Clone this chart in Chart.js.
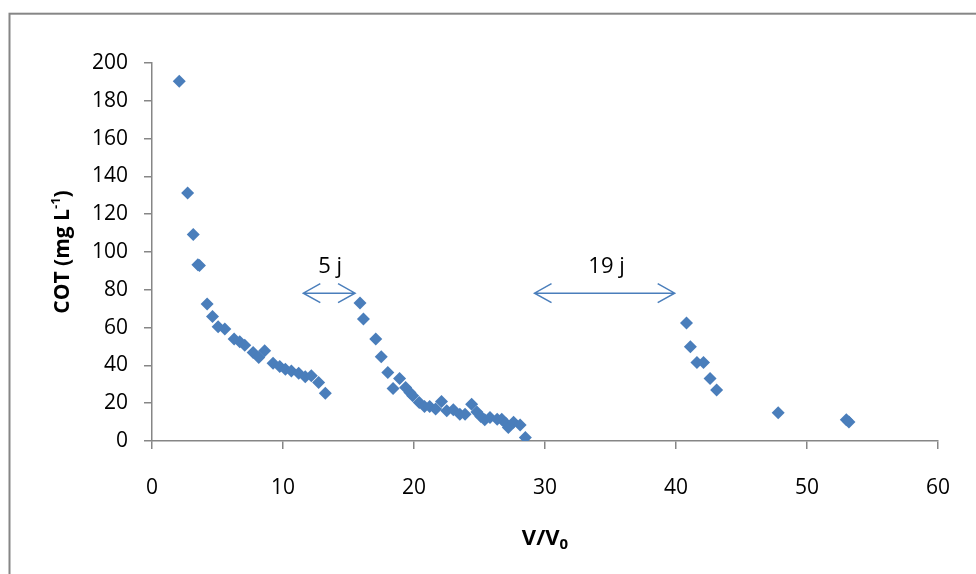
<!DOCTYPE html>
<html>
<head>
<meta charset="utf-8">
<script src="https://cdn.jsdelivr.net/npm/chart.js@4.4.1/dist/chart.umd.min.js"></script>
<style>
  html, body { margin: 0; padding: 0; background: #fff; }
  #wrap { width: 976px; height: 574px; position: relative; }
</style>
</head>
<body>
<div id="wrap"><canvas id="cotChart"></canvas></div>
<script>
// V/V0 values
const vRatio = [2.08, 2.72, 3.15, 3.5, 3.62, 4.21, 4.62, 5.05, 5.56, 6.27, 6.70, 7.08, 7.72, 8.15, 8.6,
  9.24, 9.75, 10.18, 10.64, 11.2, 11.7, 12.16, 12.72, 13.23,
  15.88, 16.14, 17.08, 17.5, 18.0, 18.4, 18.9, 19.36, 19.69, 19.9, 20.4, 20.8, 21.2, 21.65, 22.1,
  22.5, 23.0, 23.5, 23.9, 24.4, 24.8, 25.1, 25.4, 25.8, 26.35, 26.7, 27.0, 27.2, 27.6, 28.1, 28.5,
  40.8, 41.1, 41.6, 42.1, 42.6, 43.1, 47.8, 53.0, 53.2];
// COT (mg L-1)
const cotValues = [190.4, 131.2, 109.3, 93.2, 92.8, 72.5, 65.9, 60.5, 59.2, 54, 52.5, 50.7, 46.8, 44.2, 47.7,
  41.2, 39.4, 38, 37.1, 35.9, 34, 34.5, 30.9, 25.3,
  73, 64.6, 54, 44.6, 36.3, 27.8, 33.1, 28.3, 25.6, 23.9, 20.4, 18.3, 18.3, 16.9, 20.9,
  16, 16.5, 14.2, 14.2, 19.5, 15.4, 12.9, 11.2, 12.4, 11.5, 11.5, 9.4, 7.1, 9.9, 8.5, 1.8,
  62.4, 49.9, 41.6, 41.6, 33.1, 27.0, 15.0, 11.2, 10.0];

// pause annotations: arrow span (x from, x to) at height y, with label
const pauseLabels = ['5 j', '19 j'];
const pauseFrom = [11.55, 29.2];
const pauseTo = [15.5, 39.9];
const pauseY = [78.2, 78.2];
const labelX = [13.6, 34.7];
const labelY = [92, 92];

const blue = '#4A7EBB';
const axisGrey = '#868686';
const fontFam = "'Open Sans', 'Liberation Sans', sans-serif";

const points = vRatio.map((v, i) => ({ x: v, y: cotValues[i] }));

// outer frame, axis titles and the pause arrows
const extras = {
  id: 'extras',
  afterDraw(chart) {
    const ctx = chart.ctx;
    const xs = chart.scales.x, ys = chart.scales.y;
    const area = chart.chartArea;
    ctx.save();

    // frame around the whole chart (runs off the right and bottom)
    ctx.strokeStyle = axisGrey;
    ctx.lineWidth = 2;
    ctx.strokeRect(9.5, 13.7, chart.width + 20, chart.height + 20);

    // arrows
    ctx.strokeStyle = blue;
    ctx.lineWidth = 1.5;
    pauseFrom.forEach((x0, i) => {
      const a = xs.getPixelForValue(x0);
      const b = xs.getPixelForValue(pauseTo[i]);
      const y = ys.getPixelForValue(pauseY[i]);
      ctx.beginPath();
      ctx.moveTo(a, y); ctx.lineTo(b, y);
      ctx.moveTo(a + 17, y - 9.5); ctx.lineTo(a, y); ctx.lineTo(a + 17, y + 9.5);
      ctx.moveTo(b - 17, y - 9.5); ctx.lineTo(b, y); ctx.lineTo(b - 17, y + 9.5);
      ctx.stroke();
    });

    // arrow labels
    ctx.fillStyle = '#000';
    ctx.font = '22px ' + fontFam;
    ctx.textAlign = 'center';
    ctx.textBaseline = 'middle';
    pauseLabels.forEach((t, i) => {
      ctx.fillText(t, xs.getPixelForValue(labelX[i]), ys.getPixelForValue(labelY[i]));
    });

    // x title: V/V0
    ctx.font = 'bold 22px ' + fontFam;
    ctx.textAlign = 'left';
    ctx.textBaseline = 'alphabetic';
    const main = 'V/V';
    const wMain = ctx.measureText(main).width;
    ctx.font = 'bold 15px ' + fontFam;
    const wSub = ctx.measureText('0').width;
    let tx = (area.left + area.right) / 2 - (wMain + wSub) / 2;
    const ty = 545;
    ctx.font = 'bold 22px ' + fontFam;
    ctx.fillText(main, tx, ty);
    ctx.font = 'bold 15px ' + fontFam;
    ctx.fillText('0', tx + wMain, ty + 4);

    // y title: COT (mg L-1)
    ctx.translate(69, (area.top + area.bottom) / 2);
    ctx.rotate(-Math.PI / 2);
    const p1 = 'COT (mg L', p2 = '-1', p3 = ')';
    ctx.font = 'bold 21px ' + fontFam;
    const w1 = ctx.measureText(p1).width, w3 = ctx.measureText(p3).width;
    ctx.font = 'bold 13px ' + fontFam;
    const w2 = ctx.measureText(p2).width;
    let sx = -(w1 + w2 + w3) / 2;
    ctx.font = 'bold 21px ' + fontFam;
    ctx.fillText(p1, sx, 0);
    ctx.font = 'bold 13px ' + fontFam;
    ctx.fillText(p2, sx + w1, -9);
    ctx.font = 'bold 21px ' + fontFam;
    ctx.fillText(p3, sx + w1 + w2, 0);

    ctx.restore();
  }
};

new Chart(document.getElementById('cotChart'), {
  type: 'scatter',
  data: {
    datasets: [{
      label: 'COT',
      data: points,
      pointStyle: 'rectRot',
      pointRadius: 6.5,
      pointHoverRadius: 6.5,
      backgroundColor: blue,
      borderColor: blue,
      borderWidth: 0
    }]
  },
  options: {
    responsive: true,
    maintainAspectRatio: false,
    animation: false,
    layout: { padding: { top: 63, right: 28, bottom: 0, left: 0 } },
    plugins: {
      legend: { display: false },
      tooltip: { enabled: false }
    },
    scales: {
      x: {
        type: 'linear',
        min: 0,
        max: 60,
        ticks: {
          stepSize: 10,
          color: '#000',
          padding: 26,
          maxRotation: 0,
          font: { family: fontFam, size: 21 }
        },
        grid: { drawOnChartArea: false, drawTicks: true, tickLength: 8, color: axisGrey, lineWidth: 1.5 },
        border: { display: true, color: axisGrey, width: 1.5 },
        afterFit(scale) { scale.height = 133; }
      },
      y: {
        type: 'linear',
        min: 0,
        max: 200,
        ticks: {
          stepSize: 20,
          color: '#000',
          padding: 16,
          font: { family: fontFam, size: 21 }
        },
        grid: { drawOnChartArea: false, drawTicks: true, tickLength: 8, color: axisGrey, lineWidth: 1.5 },
        border: { display: true, color: axisGrey, width: 1.5 },
        afterFit(scale) { scale.width = 152; }
      }
    }
  },
  plugins: [extras]
});
</script>
</body>
</html>
